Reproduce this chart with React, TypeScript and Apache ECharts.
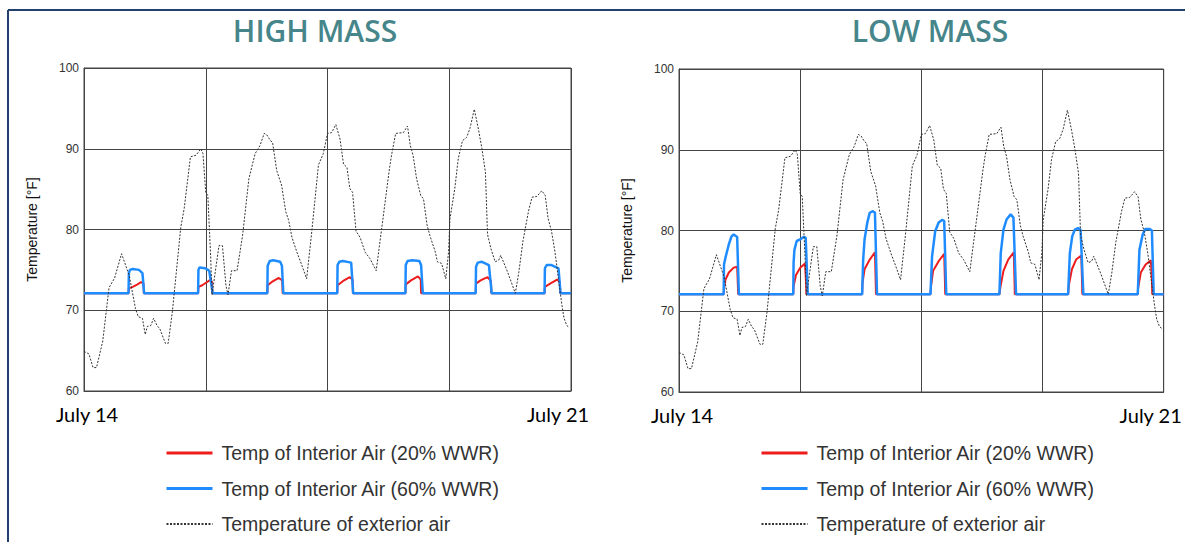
import React, { useEffect, useRef } from "react";
import * as echarts from "echarts";

const chartTitles = ["HIGH MASS", "LOW MASS"];
const dateLabels = ["July 14", "July 21"];
const seriesNames = [
  "Temp of Interior Air (20% WWR)",
  "Temp of Interior Air (60% WWR)",
  "Temperature of exterior air",
];

// [day since July 14, °F]
const exteriorAir: [number, number][] = [
  [0.0, 64.9], [0.07, 64.6], [0.13, 62.9], [0.18, 62.9], [0.27, 66.2], [0.36, 72.8], [0.44, 74.0],
  [0.54, 77.0], [0.65, 74.3], [0.74, 70.2], [0.78, 69.2], [0.84, 69.0], [0.88, 67.0], [0.91, 68.0],
  [0.96, 68.1], [1.0, 69.0], [1.05, 68.1], [1.09, 67.7], [1.17, 65.9], [1.21, 65.9], [1.27, 69.8],
  [1.39, 80.2], [1.44, 82.6], [1.53, 89.0], [1.61, 89.2], [1.68, 90.0], [1.71, 89.4], [1.75, 84.6],
  [1.78, 84.2], [1.82, 76.8], [1.84, 71.9], [1.94, 78.0], [1.99, 78.0], [2.04, 73.1], [2.07, 71.9],
  [2.12, 74.9], [2.2, 74.9], [2.28, 79.3], [2.37, 86.3], [2.46, 89.4], [2.53, 90.4], [2.59, 91.9],
  [2.63, 91.7], [2.68, 91.0], [2.71, 90.8], [2.77, 87.3], [2.84, 85.5], [2.9, 82.2], [2.94, 81.2],
  [2.99, 79.0], [3.06, 77.2], [3.13, 75.6], [3.2, 73.9], [3.27, 79.4], [3.37, 88.0], [3.44, 89.4],
  [3.5, 91.9], [3.56, 92.0], [3.62, 93.0], [3.68, 91.2], [3.73, 88.1], [3.78, 87.7], [3.82, 85.1],
  [3.86, 84.6], [3.91, 79.8], [3.97, 79.0], [4.04, 77.2], [4.11, 76.4], [4.2, 74.9], [4.28, 80.2],
  [4.39, 87.5], [4.42, 89.2], [4.48, 91.9], [4.59, 92.0], [4.65, 92.8], [4.69, 90.4], [4.73, 89.2],
  [4.78, 86.3], [4.84, 84.2], [4.88, 83.8], [4.93, 80.6], [4.97, 79.3], [5.05, 77.2], [5.08, 76.0],
  [5.14, 75.8], [5.2, 73.9], [5.24, 77.2], [5.26, 81.3], [5.33, 85.1], [5.38, 88.8], [5.44, 91.0],
  [5.5, 91.4], [5.55, 92.6], [5.61, 94.9], [5.67, 92.4], [5.72, 90.0], [5.77, 87.1], [5.8, 79.4],
  [5.85, 77.6], [5.91, 76.0], [5.96, 76.2], [5.99, 76.8], [6.09, 74.7], [6.2, 72.1], [6.25, 74.7],
  [6.31, 78.6], [6.39, 82.3], [6.44, 84.0], [6.51, 84.1], [6.58, 84.8], [6.63, 84.2], [6.67, 81.4],
  [6.72, 79.8], [6.77, 77.2], [6.82, 73.9], [6.87, 70.6], [6.9, 69.0], [6.94, 68.1], [6.97, 67.9],
];

const interior20High: [number, number][] = [
  [0, 72.1], [0.64, 72.1], [0.645, 72.7], [0.7, 72.9], [0.77, 73.2], [0.82, 73.5], [0.855, 73.3], [0.86, 72.1],
  [1.64, 72.1], [1.645, 72.9], [1.7, 73.1], [1.77, 73.5], [1.82, 73.8], [1.84, 73.5], [1.845, 72.1],
  [2.635, 72.1], [2.64, 73.1], [2.7, 73.5], [2.8, 74.0], [2.85, 73.7], [2.855, 72.1],
  [3.64, 72.1], [3.645, 73.1], [3.72, 73.6], [3.82, 74.1], [3.86, 73.8], [3.865, 72.1],
  [4.62, 72.1], [4.625, 73.2], [4.7, 73.7], [4.8, 74.2], [4.84, 73.8], [4.845, 72.1],
  [5.63, 72.1], [5.635, 73.3], [5.7, 73.7], [5.8, 74.1], [5.85, 73.6], [5.855, 72.1],
  [6.62, 72.1], [6.625, 72.9], [6.7, 73.3], [6.8, 73.8], [6.84, 73.5], [6.845, 72.1], [7, 72.1],
];

const interior60High: [number, number][] = [
  [0, 72.1], [0.64, 72.1], [0.645, 74.6], [0.66, 75.0], [0.7, 75.1], [0.79, 75.0], [0.84, 74.6], [0.865, 72.1],
  [1.64, 72.1], [1.645, 75.0], [1.66, 75.3], [1.74, 75.2], [1.8, 74.9], [1.85, 72.1],
  [2.635, 72.1], [2.64, 75.5], [2.67, 76.1], [2.72, 76.2], [2.82, 76.0], [2.845, 75.5], [2.865, 72.1],
  [3.64, 72.1], [3.645, 75.6], [3.67, 76.0], [3.72, 76.1], [3.84, 75.9], [3.87, 72.1],
  [4.62, 72.1], [4.625, 75.6], [4.65, 76.1], [4.72, 76.2], [4.82, 76.1], [4.845, 75.6], [4.87, 72.1],
  [5.63, 72.1], [5.635, 75.4], [5.66, 75.9], [5.72, 76.0], [5.82, 75.6], [5.86, 72.1],
  [6.62, 72.1], [6.625, 75.2], [6.65, 75.6], [6.72, 75.6], [6.82, 75.2], [6.85, 72.1], [7, 72.1],
];

const interior20Low: [number, number][] = [
  [0, 72.1], [0.645, 72.1], [0.65, 72.7], [0.67, 73.9], [0.72, 74.8], [0.79, 75.4], [0.84, 75.5], [0.85, 73.3], [0.855, 72.1],
  [1.65, 72.1], [1.655, 73.1], [1.69, 74.5], [1.75, 75.4], [1.82, 75.9], [1.835, 73.6], [1.84, 72.1],
  [2.645, 72.1], [2.65, 73.5], [2.68, 75.2], [2.755, 76.4], [2.83, 77.3], [2.84, 74.0], [2.845, 72.1],
  [3.632, 72.1], [3.64, 73.1], [3.67, 75.0], [3.75, 76.2], [3.83, 77.1], [3.84, 74.0], [3.845, 72.1],
  [4.628, 72.1], [4.64, 72.9], [4.686, 75.0], [4.755, 76.4], [4.835, 77.3], [4.845, 74.0], [4.85, 72.1],
  [5.62, 72.1], [5.63, 73.2], [5.675, 75.2], [5.735, 76.4], [5.81, 76.9], [5.82, 74.0], [5.825, 72.1],
  [6.626, 72.1], [6.63, 72.8], [6.67, 74.8], [6.74, 75.8], [6.815, 76.3], [6.83, 74.0], [6.835, 72.1], [7, 72.1],
];

const interior60Low: [number, number][] = [
  [0, 72.1], [0.645, 72.1], [0.65, 75.8], [0.67, 76.6], [0.72, 78.3], [0.76, 79.3], [0.79, 79.5], [0.84, 79.2], [0.865, 72.1],
  [1.65, 72.1], [1.655, 76.0], [1.667, 77.6], [1.7, 78.7], [1.75, 78.9], [1.8, 79.2], [1.83, 79.1], [1.86, 72.1],
  [2.645, 72.1], [2.66, 76.4], [2.68, 78.9], [2.72, 81.0], [2.755, 82.2], [2.8, 82.4], [2.83, 82.2], [2.86, 72.1],
  [3.632, 72.1], [3.655, 76.8], [3.7, 79.9], [3.75, 81.0], [3.8, 81.3], [3.83, 81.2], [3.86, 72.1],
  [4.628, 72.1], [4.647, 77.2], [4.686, 80.1], [4.733, 81.4], [4.79, 82.0], [4.83, 81.6], [4.868, 72.1],
  [5.62, 72.1], [5.645, 77.2], [5.68, 79.3], [5.717, 80.1], [5.764, 80.3], [5.8, 80.1], [5.84, 72.1],
  [6.626, 72.1], [6.65, 77.6], [6.697, 79.5], [6.736, 80.2], [6.793, 80.2], [6.83, 80.0], [6.856, 72.1], [7, 72.1],
];

const RED = "#ee1c1c";
const BLUE = "#1e8cff";
const GRID_COLOR = "#444";

export default function App() {
  const ref = useRef<HTMLDivElement>(null);

  useEffect(() => {
    if (!ref.current) return;
    const chart = echarts.init(ref.current, null, { renderer: "svg" });
    const grids = [
      { left: 84, top: 68, width: 487, height: 323 },
      { left: 679, top: 69, width: 487, height: 323 },
    ];
    const interiorSets = [
      [interior20High, interior60High],
      [interior20Low, interior60Low],
    ];
    const titleCenters = [310, 925];
    const legendLefts = [165, 760];

    const xAxis = grids.map((_, i) => ({
      type: "value",
      gridIndex: i,
      min: 0,
      max: 7,
      interval: 1.75,
      axisLine: { show: true, lineStyle: { color: GRID_COLOR, width: 1 } },
      axisTick: { show: false },
      splitLine: { show: true, lineStyle: { color: GRID_COLOR, width: 1 } },
      axisLabel: {
        show: true,
        margin: 13,
        showMinLabel: true,
        showMaxLabel: true,
        formatter: (v: number) =>
          v === 0 ? `{a|${dateLabels[0]}}` : v === 7 ? `{b|${dateLabels[1]}}` : "",
        rich: {
          a: { fontSize: 20, fontFamily: "Lato", color: "#000", padding: [0, 0, 0, 6] },
          b: { fontSize: 20, fontFamily: "Lato", color: "#000", padding: [0, 26, 0, 0] },
        },
      },
    }));

    const yAxis = grids.map((_, i) => ({
      type: "value",
      gridIndex: i,
      min: 60,
      max: 100,
      interval: 10,
      name: "Temperature [°F]",
      nameLocation: "middle",
      nameGap: 45,
      nameTextStyle: { fontSize: 14, fontFamily: "Liberation Sans", color: "#111" },
      axisLine: { show: true, lineStyle: { color: GRID_COLOR, width: 1 } },
      axisTick: { show: false },
      splitLine: { show: true, lineStyle: { color: GRID_COLOR, width: 1 } },
      axisLabel: { margin: 5, fontSize: 12, fontFamily: "Liberation Sans", color: "#333" },
    }));

    const series: any[] = [];
    grids.forEach((_, i) => {
      series.push({
        type: "line",
        name: seriesNames[0],
        xAxisIndex: i,
        yAxisIndex: i,
        data: interiorSets[i][0],
        symbol: "none",
        lineStyle: { color: RED, width: 2 },
        itemStyle: { color: RED },
        z: 2,
      });
      series.push({
        type: "line",
        name: seriesNames[1],
        xAxisIndex: i,
        yAxisIndex: i,
        data: interiorSets[i][1],
        symbol: "none",
        lineStyle: { color: BLUE, width: 2.5 },
        itemStyle: { color: BLUE },
        z: 3,
      });
      series.push({
        type: "line",
        name: seriesNames[2],
        xAxisIndex: i,
        yAxisIndex: i,
        data: exteriorAir,
        symbol: "none",
        lineStyle: { color: "#333", width: 1, type: [2, 1.5] },
        itemStyle: { color: "#333" },
        z: 4,
      });
    });

    chart.setOption({
      animation: false,
      backgroundColor: "#fff",
      title: chartTitles.map((t, i) => ({
        text: t,
        left: titleCenters[i],
        top: 10,
        textAlign: "center",
        textStyle: { fontSize: 30, fontWeight: 600, fontFamily: "Open Sans", color: "#46868a" },
      })),
      legend: legendLefts.map((l) => ({
        left: l,
        top: 442,
        height: 100,
        padding: 0,
        orient: "vertical",
        itemWidth: 46,
        itemHeight: 14,
        itemGap: 13.5,
        selectedMode: false,
        data: [
          { name: seriesNames[0], lineStyle: { width: 3 } },
          { name: seriesNames[1], lineStyle: { width: 3 } },
          { name: seriesNames[2] },
        ],
        itemStyle: { opacity: 0 },
        textStyle: {
          fontSize: 19.5,
          fontFamily: "Liberation Sans",
          color: "#333",
          lineHeight: 22,
          padding: [0, 0, 0, 4],
        },
      })),
      grid: grids.map((g) => ({ ...g, show: true, borderColor: GRID_COLOR, borderWidth: 1 })),
      xAxis,
      yAxis,
      series,
      graphic: [
        { type: "line", shape: { x1: 8, y1: 10, x2: 1185, y2: 10 }, style: { stroke: "#24406e", lineWidth: 2 } },
        { type: "line", shape: { x1: 8, y1: 10, x2: 8, y2: 542 }, style: { stroke: "#24406e", lineWidth: 2 } },
      ],
    });
    return () => chart.dispose();
  }, []);

  return (
    <div
      ref={ref}
      style={{ position: "absolute", left: 0, top: 0, width: 1185, height: 542, background: "#fff" }}
    />
  );
}
